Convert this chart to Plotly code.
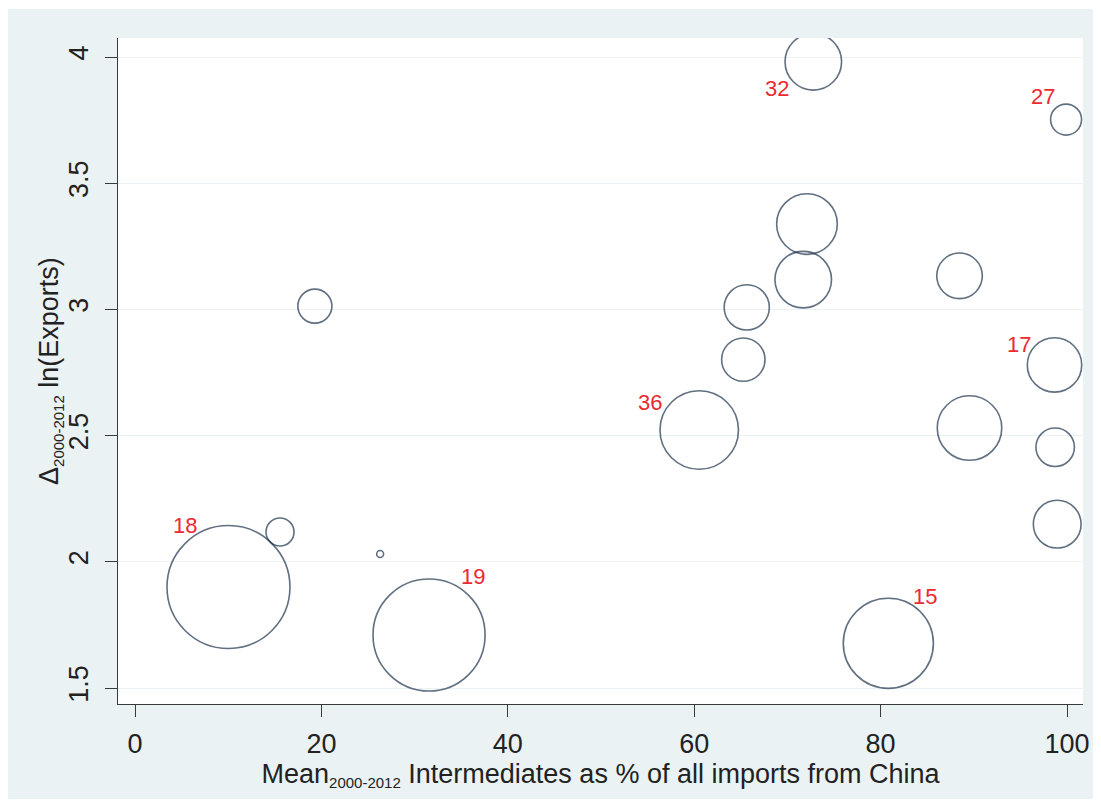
import plotly.graph_objects as go

# Mean share of intermediates in imports from China (2000-2012, %)
intermediates_share = [10.03, 15.56, 26.3, 31.55, 72.78, 99.9, 72.1, 71.7, 88.47,
                       65.64, 65.27, 60.54, 98.66, 89.54, 98.73, 98.95, 80.83, 19.3]
# Change in log exports, 2000-2012
d_ln_exports = [1.900, 2.118, 2.031, 1.710, 3.981, 3.752, 3.338, 3.118, 3.133,
                3.008, 2.801, 2.522, 2.780, 2.530, 2.454, 2.149, 1.677, 3.013]
# Bubble weights (area is proportional to weight)
weight = [37.8, 1.96, 0.12, 31.4, 8.0, 2.4, 9.2, 8.0, 5.2,
          5.1, 4.7, 15.4, 7.4, 10.4, 3.7, 5.7, 20.3, 2.9]
# Industry codes shown next to selected bubbles
code_label = ["18", "", "", "19", "32", "27", "", "", "",
              "", "", "36", "17", "", "", "", "15", ""]

x_ticks = [0, 20, 40, 60, 80, 100]
y_ticks = [1.5, 2, 2.5, 3, 3.5, 4]

# Label placement around each bubble (pixel offsets, Stata-like clock positions)
label_offset = {"18": (-43, 62), "19": (44, 58), "32": (-36, -27), "27": (-23, 23),
                "36": (-49, 28), "17": (-36, 20), "15": (37, 47)}

W, H = 1101, 807
ML, MR, MT, MB = 118, 18, 38, 103
PW, PH = W - ML - MR, H - MT - MB

def px_to_paper_x(px):
    return (px - ML) / PW

def px_to_paper_y(py):
    return (H - MB - py) / PH

FONT = "Liberation Sans, Arial, sans-serif"
INK = "#222222"
REGION = "#eaf2f3"
AXIS = "#3a3a3a"

fig = go.Figure()
fig.add_trace(go.Scatter(
    x=intermediates_share,
    y=d_ln_exports,
    mode="markers",
    marker=dict(
        size=weight,
        sizemode="area",
        sizeref=1 / 200,
        sizemin=1,
        color="rgba(0,0,0,0)",
        line=dict(color="#1f344c", width=1.6),
    ),
    hoverinfo="skip",
    showlegend=False,
))

annotations = []
for xv, yv, lab in zip(intermediates_share, d_ln_exports, code_label):
    if not lab:
        continue
    dx, dy = label_offset[lab]
    annotations.append(dict(
        x=xv, y=yv, xref="x", yref="y", text=lab, showarrow=False,
        xshift=dx, yshift=dy, xanchor="center", yanchor="middle",
        font=dict(family=FONT, size=22, color="#ec2a2f"),
    ))

SUB = "<sub><span style=\"font-size:15px\">2000-2012</span></sub>"

# y-axis title, set close to the rotated tick labels
annotations.append(dict(
    x=px_to_paper_x(50), y=0.5, xref="paper", yref="paper",
    text="\u0394" + SUB + " ln(Exports)", textangle=-90, showarrow=False,
    xanchor="center", yanchor="middle",
    font=dict(family=FONT, size=27, color=INK),
))

shapes = [
    # graph region (light bluish gray frame with thin white border)
    dict(type="rect", xref="paper", yref="paper", layer="below",
         x0=px_to_paper_x(8), x1=px_to_paper_x(1093),
         y0=px_to_paper_y(799), y1=px_to_paper_y(9),
         fillcolor=REGION, line=dict(width=0)),
    # white plot region
    dict(type="rect", xref="paper", yref="paper", layer="below",
         x0=0, x1=1, y0=0, y1=1, fillcolor="white", line=dict(width=0)),
]

fig.update_layout(
    width=W, height=H,
    margin=dict(l=ML, r=MR, t=MT, b=MB, pad=0),
    paper_bgcolor="white",
    plot_bgcolor="white",
    font=dict(family=FONT, size=27, color=INK),
    shapes=shapes,
    annotations=annotations,
    xaxis=dict(
        range=[-1.824, 101.717],
        tickvals=x_ticks,
        ticktext=[str(v) for v in x_ticks],
        showgrid=False, zeroline=False,
        showline=True, linecolor=AXIS, linewidth=1.3,
        ticks="outside", ticklen=12, tickwidth=1.3, tickcolor=AXIS,
        tickfont=dict(family=FONT, size=27, color=INK),
        ticklabelstandoff=3,
        title=dict(
            text="Mean" + SUB + " Intermediates as % of all imports from China",
            font=dict(family=FONT, size=27, color=INK),
            standoff=0,
        ),
        automargin=False,
    ),
    yaxis=dict(
        range=[1.4366, 4.0753],
        tickvals=y_ticks,
        ticktext=["1.5", "2", "2.5", "3", "3.5", "4"],
        tickangle=-90,
        showgrid=True, gridcolor=REGION, gridwidth=1.3,
        zeroline=False,
        showline=True, linecolor=AXIS, linewidth=1.3,
        ticks="outside", ticklen=12, tickwidth=1.3, tickcolor=AXIS,
        tickfont=dict(family=FONT, size=27, color=INK),
        ticklabelstandoff=6,
        automargin=False,
    ),
)

fig.write_html("out.html")
